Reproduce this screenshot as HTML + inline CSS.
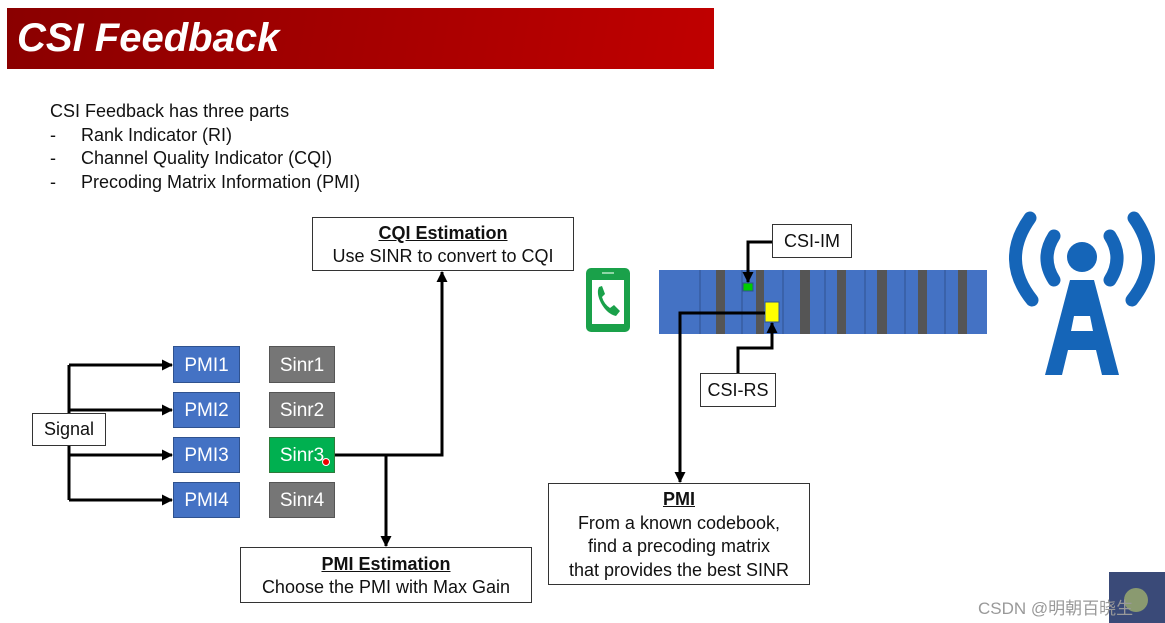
<!DOCTYPE html>
<html><head><meta charset="utf-8"><style>
body{margin:0;width:1165px;height:623px;background:#fff;position:relative;overflow:hidden;font-family:"Liberation Sans","DejaVu Sans",sans-serif;}
.a{position:absolute;}
.title{left:7px;top:8px;width:707px;height:61px;background:linear-gradient(100deg,#8a0000,#c00000);color:#fff;font-style:italic;font-weight:bold;font-size:40px;line-height:61px;padding-left:10px;box-sizing:border-box;}
.txt{font-size:18px;color:#111;line-height:23.5px;}
.box{border:1.5px solid #333;background:#fff;text-align:center;box-sizing:border-box;font-size:18px;color:#111;}
.pm{background:#4472c4;color:#fff;border:1px solid #2f528f;font-size:19px;text-align:center;box-sizing:border-box;}
.sn{background:#767676;color:#fff;border:1px solid #555;font-size:19px;text-align:center;box-sizing:border-box;}
</style></head><body>
<div class="a title">CSI Feedback</div>
<div class="a txt" style="left:50px;top:100px">CSI Feedback has three parts<br>-&nbsp;&nbsp;&nbsp;&nbsp;&nbsp;Rank Indicator (RI)<br>-&nbsp;&nbsp;&nbsp;&nbsp;&nbsp;Channel Quality Indicator (CQI)<br>-&nbsp;&nbsp;&nbsp;&nbsp;&nbsp;Precoding Matrix Information (PMI)</div>

<svg class="a" style="left:0;top:0" width="1165" height="623">
<defs><marker id="ar" markerWidth="11" markerHeight="11" refX="10" refY="5.5" orient="auto" markerUnits="userSpaceOnUse"><path d="M0,0 L11,5.5 L0,11z" fill="#000"/></marker></defs>
<g stroke="#000" stroke-width="3" fill="none">
<path d="M69,365 V500"/>
<path d="M69,365 H172" marker-end="url(#ar)"/>
<path d="M69,410 H172" marker-end="url(#ar)"/>
<path d="M69,455 H172" marker-end="url(#ar)"/>
<path d="M69,500 H172" marker-end="url(#ar)"/>
<path d="M335,455 H442 V272" marker-end="url(#ar)"/>
<path d="M386,455 V546" marker-end="url(#ar)"/>
</g>
<rect x="659" y="270" width="328" height="64" fill="#4472c4"/>
<g stroke="#2f528f" stroke-width="1">
<path d="M700,270V334M742,270V334M783,270V334M825,270V334M865,270V334M905,270V334M945,270V334"/>
</g>
<g fill="#555">
<rect x="716" y="270" width="9" height="64"/><rect x="756" y="270" width="8" height="64"/>
<rect x="800" y="270" width="10" height="64"/><rect x="837" y="270" width="9" height="64"/>
<rect x="877" y="270" width="10" height="64"/><rect x="918" y="270" width="9" height="64"/>
<rect x="958" y="270" width="9" height="64"/>
</g>
<rect x="743" y="283" width="10" height="8" fill="#00cc00" stroke="#2f528f"/>
<rect x="765" y="302" width="14" height="20" fill="#ffff00" stroke="#2f528f"/>
<g stroke="#000" stroke-width="3" fill="none">
<path d="M772,242 H748 V282" marker-end="url(#ar)"/>
<path d="M738,373 V348 H772 V323" marker-end="url(#ar)"/>
<path d="M765,313 H680 V482" marker-end="url(#ar)"/>
</g>
<rect x="586" y="268" width="44" height="64" rx="5" fill="#1aa14a"/>
<rect x="592" y="280" width="32" height="44" fill="#fff"/>
<rect x="602" y="272" width="12" height="2" fill="#8fd6a6"/>
<path d="M599,287 q-3,6 2,16 q6,11 15,13 l4,-5 l-6,-6 l-4,3 q-6,-4 -8,-11 l3,-3 l-3,-8z" fill="#1aa14a"/>
<g fill="none" stroke="#1565b8" stroke-width="13" stroke-linecap="round">
<path d="M1030,218 Q1000,260 1032,300"/>
<path d="M1134,218 Q1164,260 1132,300"/>
<path d="M1054,236 Q1040,258 1054,280"/>
<path d="M1110,236 Q1124,258 1110,280"/>
</g>
<circle cx="1082" cy="257" r="15" fill="#1565b8"/>
<path d="M1070,280 H1094 L1119,375 H1102 L1096,350 H1068 L1062,375 H1045Z M1074,316 L1071,331 H1093 L1090,316Z" fill="#1565b8" fill-rule="evenodd"/>
<rect x="1109" y="572" width="56" height="51" fill="#3a4a78"/>
<circle cx="1136" cy="600" r="12" fill="#8a9a70"/>
</svg>

<div class="a box" style="left:312px;top:217px;width:262px;height:54px;line-height:23px;padding-top:4px"><b><u>CQI Estimation</u></b><br>Use SINR to convert to CQI</div>
<div class="a box" style="left:240px;top:547px;width:292px;height:56px;line-height:23px;padding-top:5px"><b><u>PMI Estimation</u></b><br>Choose the PMI with Max Gain</div>
<div class="a box" style="left:548px;top:483px;width:262px;height:102px;line-height:23.5px;padding-top:4px"><b><u>PMI</u></b><br>From a known codebook,<br>find a precoding matrix<br>that provides the best SINR</div>
<div class="a box" style="left:32px;top:413px;width:74px;height:33px;line-height:31px">Signal</div>
<div class="a box" style="left:772px;top:224px;width:80px;height:34px;line-height:32px">CSI-IM</div>
<div class="a box" style="left:700px;top:373px;width:76px;height:34px;line-height:32px">CSI-RS</div>

<div class="a pm" style="left:173px;top:346px;width:67px;height:37px;line-height:37px">PMI1</div>
<div class="a pm" style="left:173px;top:392px;width:67px;height:36px;line-height:36px">PMI2</div>
<div class="a pm" style="left:173px;top:437px;width:67px;height:36px;line-height:36px">PMI3</div>
<div class="a pm" style="left:173px;top:482px;width:67px;height:36px;line-height:36px">PMI4</div>
<div class="a sn" style="left:269px;top:346px;width:66px;height:37px;line-height:37px">Sinr1</div>
<div class="a sn" style="left:269px;top:392px;width:66px;height:36px;line-height:36px">Sinr2</div>
<div class="a sn" style="left:269px;top:437px;width:66px;height:36px;line-height:36px;background:#00b050;border-color:#2f7a3a">Sinr3</div>
<div class="a sn" style="left:269px;top:482px;width:66px;height:36px;line-height:36px">Sinr4</div>
<div class="a" style="left:322px;top:458px;width:6px;height:6px;border-radius:50%;background:#e00;border:1px solid #fff"></div>
<div class="a" style="left:978px;top:594px;font-size:17px;color:#999;font-family:'Liberation Sans','Noto Sans CJK SC',sans-serif">CSDN @明朝百晓生</div>
</body></html>
